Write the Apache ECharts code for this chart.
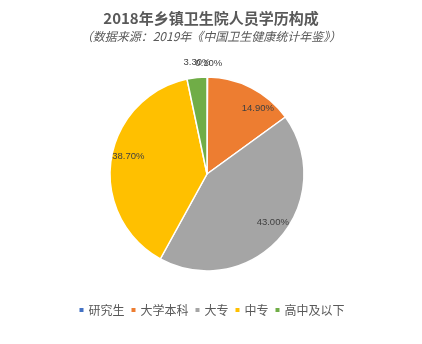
<!DOCTYPE html>
<html><head><meta charset="utf-8">
<script src="https://cdn.jsdelivr.net/npm/echarts@6/dist/echarts.min.js"></script>
<style>html,body{margin:0;padding:0;background:#fff}#c{width:422px;height:344px}</style>
</head><body><div id="c"></div>
<script>
var categories = ['研究生', '大学本科', '大专', '中专', '高中及以下'];
var values = [0.1, 14.9, 43.0, 38.7, 3.3];
var colors = ['#4472C4', '#ED7D31', '#A5A5A5', '#FFC000', '#70AD47'];

var mainData = categories.map(function (n, i) {
  return { name: n, value: values[i], itemStyle: { color: colors[i] } };
});
var labelData = categories.map(function (n, i) {
  var d = { name: n, value: values[i] };
  if (values[i] < 5) {
    d.label = { position: 'outside' };
    d.labelLine = { show: false, length: 14, length2: 0 };
  }
  return d;
});
var labelShift = [[-17, 0], [13, 8], [3.5, -7], [3.5, -5.5], [20, -1]];

var chart = echarts.init(document.getElementById('c'));
chart.setOption({
  animation: false,
  backgroundColor: '#fff',
  title: {
    text: '2018年乡镇卫生院人员学历构成',
    subtext: '（数据来源：2019年《中国卫生健康统计年鉴》）',
    left: 'center', top: 6, itemGap: 4,
    textStyle: { fontFamily: 'Noto Sans CJK SC', fontSize: 15, fontWeight: 'bold', color: '#595959' },
    subtextStyle: { fontFamily: 'Noto Sans CJK SC', fontSize: 12, fontStyle: 'italic', color: '#595959' }
  },
  legend: {
    data: categories, bottom: 23, left: 'center',
    icon: 'rect', itemWidth: 6, itemHeight: 6, itemGap: 5,
    textStyle: { fontFamily: 'Noto Sans CJK SC', fontSize: 12, color: '#595959', padding: [0, 0, 0, -1] }
  },
  series: [
    {
      type: 'pie', center: [207, 174], radius: 97, startAngle: 90, clockwise: true,
      label: { show: false }, labelLine: { show: false },
      itemStyle: { borderColor: '#fff', borderWidth: 1.5 },
      data: mainData
    },
    {
      type: 'pie', center: [207, 174], radius: [63, 97], startAngle: 90, clockwise: true,
      silent: true, avoidLabelOverlap: false, legendHoverLink: false,
      itemStyle: { color: 'rgba(0,0,0,0)' },
      label: {
        show: true, position: 'inside', color: '#404040', fontSize: 9.5,
        fontFamily: 'Liberation Sans',
        formatter: function (p) { return p.value.toFixed(2) + '%'; }
      },
      labelLine: { show: false },
      labelLayout: function (p) {
        var s = labelShift[p.dataIndex];
        return { dx: s[0], dy: s[1] };
      },
      data: labelData
    }
  ]
});
</script></body></html>
